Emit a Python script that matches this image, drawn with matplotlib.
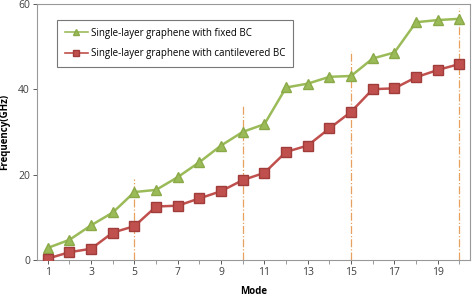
import matplotlib
matplotlib.use("Agg")
import matplotlib.pyplot as plt

# mode numbers and frequencies (GHz)
modes = list(range(1, 21))
fixed_bc = [2.8, 4.7, 8.1, 11.1, 15.9, 16.4, 19.4, 22.9, 26.8, 30.0,
            31.8, 40.4, 41.3, 42.9, 43.1, 47.2, 48.6, 55.7, 56.2, 56.5]
cantilever_bc = [0.3, 1.8, 2.6, 6.4, 7.9, 12.5, 12.7, 14.4, 16.1, 18.7,
                 20.4, 25.3, 26.8, 30.8, 34.7, 40.0, 40.2, 42.8, 44.5, 45.9]
# dashed marker lines
mark_modes = [5, 10, 15, 20]
mark_tops = [19, 36, 49, 59]

plt.rcParams['font.family'] = ['Open Sans', 'DejaVu Sans']

fig = plt.figure(figsize=(4.74, 2.98), dpi=100)
ax = fig.add_axes([0.078, 0.128, 0.914, 0.859])

for m, top in zip(mark_modes, mark_tops):
    ax.plot([m, m], [0, top], color='#E8A060', linestyle='-.', linewidth=0.9, zorder=1)

ax.plot(modes, fixed_bc, color='#9BBB59', linewidth=1.8, marker='^', markersize=6.5,
        markerfacecolor='#9BBB59', markeredgecolor='#8AAA48',
        label='Single-layer graphene with fixed BC', zorder=3)
ax.plot(modes, cantilever_bc, color='#C0504D', linewidth=1.8, marker='s', markersize=6.5,
        markerfacecolor='#C0504D', markeredgecolor='#A03C3A',
        label='Single-layer graphene with cantilevered BC', zorder=3)

ax.set_xlim(0.5, 20.5)
ax.set_ylim(0, 60)
ax.set_xticks(range(1, 21, 2))
ax.set_xticks(range(1, 21), minor=True)
ax.set_yticks([0, 20, 40, 60])
ax.tick_params(axis='both', labelsize=7.5, colors='#404040', length=3, width=0.6, pad=2)
ax.tick_params(axis='x', which='minor', length=3, width=0.6, color='#888888')
for s in ax.spines.values():
    s.set_color('#999999')
    s.set_linewidth(0.8)

ax.set_xlabel('Mode', fontsize=7, fontweight='bold', labelpad=6)
ax.set_ylabel('Frequency(GHz)', fontsize=7, fontweight='bold', labelpad=6)

leg = ax.legend(loc='upper left', bbox_to_anchor=(0.046, 0.9375), fontsize=7,
                frameon=True, fancybox=False, edgecolor='#555555', borderaxespad=0,
                markerscale=0.6, handlelength=2.4, borderpad=0.8, labelspacing=1.0,
                handletextpad=0.3)
leg.get_frame().set_linewidth(0.8)
for h in leg.get_lines():
    h.set_linewidth(1.2)

fig.savefig('out.png', dpi=100)
